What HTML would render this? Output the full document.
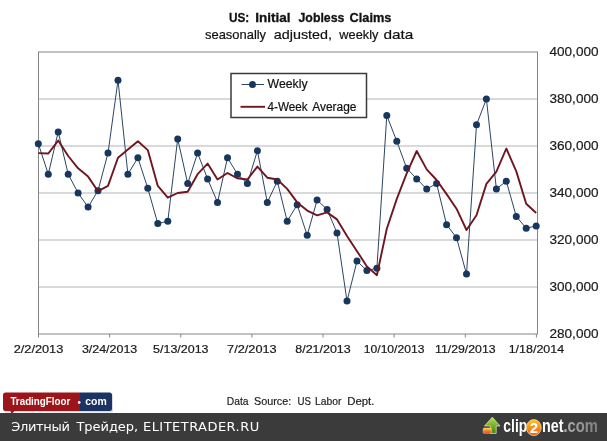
<!DOCTYPE html>
<html><head><meta charset="utf-8"><title>US: Initial Jobless Claims</title>
<style>
html,body{margin:0;padding:0;background:#fff;}
body{width:607px;height:441px;overflow:hidden;position:relative;font-family:"Liberation Sans",sans-serif;}
svg{position:absolute;left:0;top:0;display:block;}
svg text{font-family:"Liberation Sans",sans-serif;}
</style></head><body>
<svg width="607" height="441" viewBox="0 0 607 441">
<rect x="0" y="0" width="607" height="441" fill="#ffffff"/>
<!-- title -->
<g font-size="13" font-weight="bold" fill="#111" stroke="#111" stroke-width="0.3"><text x="229" y="21.9" textLength="20.3" lengthAdjust="spacingAndGlyphs">US:</text><text x="255.3" y="21.9" textLength="35.3" lengthAdjust="spacingAndGlyphs">Initial</text><text x="298.5" y="21.9" textLength="45.9" lengthAdjust="spacingAndGlyphs">Jobless</text><text x="349.6" y="21.9" textLength="41.8" lengthAdjust="spacingAndGlyphs">Claims</text></g>
<g font-size="13" fill="#111" stroke="#111" stroke-width="0.2"><text x="205" y="38.5" textLength="61.1" lengthAdjust="spacingAndGlyphs">seasonally</text><text x="273.8" y="38.5" textLength="58.2" lengthAdjust="spacingAndGlyphs">adjusted,</text><text x="339.3" y="38.5" textLength="39.1" lengthAdjust="spacingAndGlyphs">weekly</text><text x="383.5" y="38.5" textLength="29.9" lengthAdjust="spacingAndGlyphs">data</text></g>
<!-- grid -->
<g stroke="#aaacae" stroke-width="0.9"><line x1="38.5" x2="537.5" y1="99" y2="99"/><line x1="38.5" x2="537.5" y1="146" y2="146"/><line x1="38.5" x2="537.5" y1="193" y2="193"/><line x1="38.5" x2="537.5" y1="240" y2="240"/><line x1="38.5" x2="537.5" y1="287" y2="287"/></g>
<rect x="38.5" y="52" width="499.0" height="282" fill="none" stroke="#858585" stroke-width="1"/>
<g stroke="#858585" stroke-width="1"><line x1="38.5" x2="38.5" y1="334" y2="337.5"/><line x1="109.6" x2="109.6" y1="334" y2="337.5"/><line x1="180.8" x2="180.8" y1="334" y2="337.5"/><line x1="251.9" x2="251.9" y1="334" y2="337.5"/><line x1="323.0" x2="323.0" y1="334" y2="337.5"/><line x1="394.1" x2="394.1" y1="334" y2="337.5"/><line x1="465.3" x2="465.3" y1="334" y2="337.5"/><line x1="536.4" x2="536.4" y1="334" y2="337.5"/></g>
<!-- series -->
<polyline points="38.3,143.7 48.3,174.2 58.2,131.9 68.2,174.2 78.1,193.0 88.1,207.1 98.0,190.7 108.0,153.1 118.0,80.2 127.9,174.2 137.9,157.8 147.8,188.3 157.8,223.6 167.8,221.2 177.7,138.9 187.7,183.6 197.6,153.1 207.6,178.9 217.5,202.4 227.5,157.8 237.5,174.2 247.4,183.6 257.4,150.7 267.3,202.4 277.3,181.2 287.2,221.2 297.2,204.8 307.2,235.3 317.1,200.1 327.1,209.4 337.0,232.9 347.0,301.1 357.0,261.1 366.9,270.6 376.9,268.2 386.8,115.5 396.8,141.3 406.7,168.3 416.7,178.9 426.7,189.0 436.6,183.6 446.6,224.7 456.5,237.7 466.5,274.1 476.5,124.8 486.4,99.0 496.4,189.0 506.3,181.2 516.3,216.5 526.2,228.2 536.2,225.9" fill="none" stroke="#2c4562" stroke-width="1" stroke-linejoin="round"/>
<g fill="#17375e"><circle cx="38.3" cy="143.7" r="3.5"/><circle cx="48.3" cy="174.2" r="3.5"/><circle cx="58.2" cy="131.9" r="3.5"/><circle cx="68.2" cy="174.2" r="3.5"/><circle cx="78.1" cy="193.0" r="3.5"/><circle cx="88.1" cy="207.1" r="3.5"/><circle cx="98.0" cy="190.7" r="3.5"/><circle cx="108.0" cy="153.1" r="3.5"/><circle cx="118.0" cy="80.2" r="3.5"/><circle cx="127.9" cy="174.2" r="3.5"/><circle cx="137.9" cy="157.8" r="3.5"/><circle cx="147.8" cy="188.3" r="3.5"/><circle cx="157.8" cy="223.6" r="3.5"/><circle cx="167.8" cy="221.2" r="3.5"/><circle cx="177.7" cy="138.9" r="3.5"/><circle cx="187.7" cy="183.6" r="3.5"/><circle cx="197.6" cy="153.1" r="3.5"/><circle cx="207.6" cy="178.9" r="3.5"/><circle cx="217.5" cy="202.4" r="3.5"/><circle cx="227.5" cy="157.8" r="3.5"/><circle cx="237.5" cy="174.2" r="3.5"/><circle cx="247.4" cy="183.6" r="3.5"/><circle cx="257.4" cy="150.7" r="3.5"/><circle cx="267.3" cy="202.4" r="3.5"/><circle cx="277.3" cy="181.2" r="3.5"/><circle cx="287.2" cy="221.2" r="3.5"/><circle cx="297.2" cy="204.8" r="3.5"/><circle cx="307.2" cy="235.3" r="3.5"/><circle cx="317.1" cy="200.1" r="3.5"/><circle cx="327.1" cy="209.4" r="3.5"/><circle cx="337.0" cy="232.9" r="3.5"/><circle cx="347.0" cy="301.1" r="3.5"/><circle cx="357.0" cy="261.1" r="3.5"/><circle cx="366.9" cy="270.6" r="3.5"/><circle cx="376.9" cy="268.2" r="3.5"/><circle cx="386.8" cy="115.5" r="3.5"/><circle cx="396.8" cy="141.3" r="3.5"/><circle cx="406.7" cy="168.3" r="3.5"/><circle cx="416.7" cy="178.9" r="3.5"/><circle cx="426.7" cy="189.0" r="3.5"/><circle cx="436.6" cy="183.6" r="3.5"/><circle cx="446.6" cy="224.7" r="3.5"/><circle cx="456.5" cy="237.7" r="3.5"/><circle cx="466.5" cy="274.1" r="3.5"/><circle cx="476.5" cy="124.8" r="3.5"/><circle cx="486.4" cy="99.0" r="3.5"/><circle cx="496.4" cy="189.0" r="3.5"/><circle cx="506.3" cy="181.2" r="3.5"/><circle cx="516.3" cy="216.5" r="3.5"/><circle cx="526.2" cy="228.2" r="3.5"/><circle cx="536.2" cy="225.9" r="3.5"/></g>
<polyline points="38.3,153.1 48.3,153.5 58.2,140.6 68.2,156.0 78.1,168.3 88.1,176.6 98.0,191.2 108.0,185.9 118.0,157.8 127.9,149.5 137.9,141.3 147.8,150.1 157.8,185.9 167.8,197.7 177.7,193.0 187.7,191.8 197.6,174.2 207.6,163.6 217.5,179.5 227.5,173.0 237.5,178.3 247.4,179.5 257.4,166.6 267.3,177.7 277.3,179.5 287.2,188.9 297.2,202.4 307.2,210.6 317.1,215.3 327.1,212.4 337.0,219.4 347.0,235.9 357.0,251.2 366.9,266.4 376.9,275.2 386.8,228.8 396.8,198.9 406.7,173.3 416.7,151.0 426.7,169.4 436.6,180.0 446.6,194.1 456.5,208.7 466.5,230.0 476.5,215.3 486.4,183.9 496.4,171.7 506.3,148.5 516.3,171.4 526.2,203.8 536.2,213.0" fill="none" stroke="#6e1720" stroke-width="1.9" stroke-linejoin="round"/>
<!-- legend -->
<rect x="231" y="73.5" width="135.5" height="44" fill="#fff" stroke="#3a3a3a" stroke-width="1.5"/>
<line x1="241.5" x2="264" y1="84.5" y2="84.5" stroke="#2c4562" stroke-width="1"/>
<circle cx="252.5" cy="84.5" r="3.5" fill="#17375e"/>
<text x="267.6" y="87.7" font-size="12" fill="#111" stroke="#111" stroke-width="0.2" textLength="40" lengthAdjust="spacingAndGlyphs">Weekly</text>
<line x1="240.5" x2="265" y1="106.8" y2="106.8" stroke="#6e1720" stroke-width="1.9"/>
<g font-size="12" fill="#111" stroke="#111" stroke-width="0.2"><text x="267.6" y="110.6" textLength="40.1" lengthAdjust="spacingAndGlyphs">4-Week</text><text x="312.2" y="110.6" textLength="44.3" lengthAdjust="spacingAndGlyphs">Average</text></g>
<!-- axis labels -->
<g font-size="13" fill="#1a1a1a" stroke="#1a1a1a" stroke-width="0.2"><text x="598.5" y="56.3" text-anchor="end" textLength="49" lengthAdjust="spacingAndGlyphs">400,000</text><text x="598.5" y="103.3" text-anchor="end" textLength="49" lengthAdjust="spacingAndGlyphs">380,000</text><text x="598.5" y="150.3" text-anchor="end" textLength="49" lengthAdjust="spacingAndGlyphs">360,000</text><text x="598.5" y="197.3" text-anchor="end" textLength="49" lengthAdjust="spacingAndGlyphs">340,000</text><text x="598.5" y="244.3" text-anchor="end" textLength="49" lengthAdjust="spacingAndGlyphs">320,000</text><text x="598.5" y="291.3" text-anchor="end" textLength="49" lengthAdjust="spacingAndGlyphs">300,000</text><text x="598.5" y="338.3" text-anchor="end" textLength="49" lengthAdjust="spacingAndGlyphs">280,000</text></g>
<g font-size="11.2" fill="#1a1a1a" stroke="#1a1a1a" stroke-width="0.2"><text x="38.5" y="353.2" text-anchor="middle" textLength="49.6" lengthAdjust="spacingAndGlyphs">2/2/2013</text><text x="109.6" y="353.2" text-anchor="middle" textLength="55.4" lengthAdjust="spacingAndGlyphs">3/24/2013</text><text x="180.8" y="353.2" text-anchor="middle" textLength="55.4" lengthAdjust="spacingAndGlyphs">5/13/2013</text><text x="251.9" y="353.2" text-anchor="middle" textLength="49.6" lengthAdjust="spacingAndGlyphs">7/2/2013</text><text x="323.0" y="353.2" text-anchor="middle" textLength="55.4" lengthAdjust="spacingAndGlyphs">8/21/2013</text><text x="394.1" y="353.2" text-anchor="middle" textLength="60.6" lengthAdjust="spacingAndGlyphs">10/10/2013</text><text x="465.3" y="353.2" text-anchor="middle" textLength="60.6" lengthAdjust="spacingAndGlyphs">11/29/2013</text><text x="536.4" y="353.2" text-anchor="middle" textLength="55.4" lengthAdjust="spacingAndGlyphs">1/18/2014</text></g>
<!-- source -->
<g font-size="11.5" fill="#222" stroke="#222" stroke-width="0.2"><text x="226.8" y="404.5" textLength="21.7" lengthAdjust="spacingAndGlyphs">Data</text><text x="254" y="404.5" textLength="37.2" lengthAdjust="spacingAndGlyphs">Source:</text><text x="297.5" y="404.5" textLength="13.5" lengthAdjust="spacingAndGlyphs">US</text><text x="315.1" y="404.5" textLength="26.4" lengthAdjust="spacingAndGlyphs">Labor</text><text x="347.2" y="404.5" textLength="27.2" lengthAdjust="spacingAndGlyphs">Dept.</text></g>
<!-- tradingfloor logo -->
<rect x="4" y="393.5" width="109" height="19" rx="2.5" fill="#d5dbe6"/>
<path d="M5.5 392.5 H80 V411 H14.5 L11.5 414 L10.5 411 H5.5 Q3 411 3 408.5 V395 Q3 392.5 5.5 392.5 Z" fill="#9c151b"/>
<path d="M80 392.5 H109.5 Q112 392.5 112 395 V408.5 Q112 411 109.500 411 H80 Z" fill="#1b3263"/>
<text x="10.4" y="405.2" font-size="10.5" font-weight="bold" fill="#fff" textLength="60" lengthAdjust="spacingAndGlyphs">TradingFloor</text>
<circle cx="79.2" cy="402.5" r="1.4" fill="#f4f4f8"/>
<text x="85.3" y="405.2" font-size="10.5" font-weight="bold" fill="#fff" textLength="21.5" lengthAdjust="spacingAndGlyphs">com</text>
<!-- bottom bar -->
<rect x="0" y="413" width="607" height="28" fill="#3b3b3b"/>
<g font-size="13" fill="#fff" style="font-family:'DejaVu Sans',sans-serif"><text x="11.3" y="431.3" textLength="58.6" lengthAdjust="spacing" style="font-family:DejaVu Sans,sans-serif">Элитный</text><text x="76.4" y="431.3" textLength="61.8" lengthAdjust="spacing" style="font-family:DejaVu Sans,sans-serif">Трейдер,</text><text x="143" y="431.3" textLength="116.2" lengthAdjust="spacing" style="font-family:DejaVu Sans,sans-serif">ELITETRADER.RU</text></g>
<!-- clip2net logo -->
<defs>
<linearGradient id="ga" x1="0" y1="0" x2="0" y2="1"><stop offset="0" stop-color="#b4e04c"/><stop offset="1" stop-color="#3f8410"/></linearGradient>
<linearGradient id="go" x1="0" y1="0" x2="0" y2="1"><stop offset="0" stop-color="#ffd23a"/><stop offset="1" stop-color="#e2401a"/></linearGradient>
<linearGradient id="gc" x1="0" y1="0" x2="0" y2="1"><stop offset="0" stop-color="#ffc526"/><stop offset="1" stop-color="#ee5a12"/></linearGradient>
<linearGradient id="gg" x1="0" y1="0" x2="1" y2="0"><stop offset="0" stop-color="#b2b2b2"/><stop offset="1" stop-color="#7c7c7c"/></linearGradient>
</defs>
<path d="M492.3 417.2 L500 426 H496.2 V433.4 H490.3 V426 H484.5 Z" fill="url(#ga)" stroke="#e4f3c0" stroke-width="0.7" stroke-linejoin="round"/>
<rect x="483.2" y="428.1" width="8.2" height="5.2" rx="0.8" fill="url(#go)" stroke="#ffe2a0" stroke-width="0.5"/>
<text x="503.3" y="432" font-size="17.5" font-weight="bold" fill="#fff" textLength="24" lengthAdjust="spacingAndGlyphs">clip</text>
<ellipse cx="533.8" cy="427.6" rx="7.4" ry="8" fill="url(#gc)" stroke="#ffd98a" stroke-width="0.8"/>
<text x="533.8" y="432.8" font-size="15" font-weight="bold" fill="#fff" text-anchor="middle">2</text>
<text x="542" y="432" font-size="17.5" font-weight="bold" fill="#fff" textLength="21.5" lengthAdjust="spacingAndGlyphs">net</text>
<text x="563.5" y="432" font-size="17.5" font-weight="bold" fill="url(#gg)" textLength="34.5" lengthAdjust="spacingAndGlyphs">.com</text>
</svg>
</body></html>
